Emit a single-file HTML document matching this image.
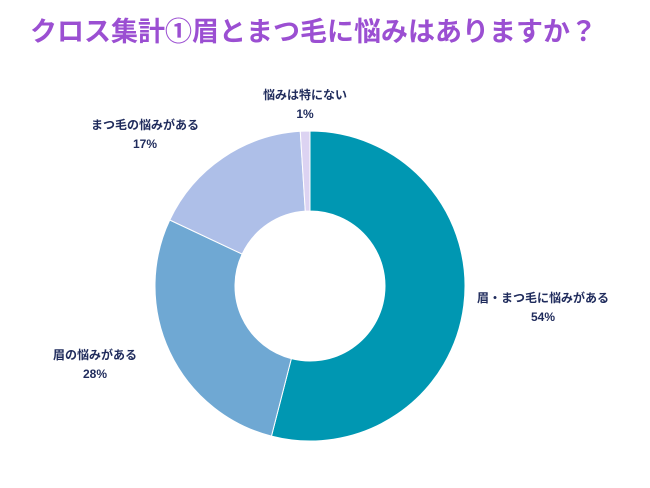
<!DOCTYPE html>
<html><head><meta charset="utf-8"><style>
html,body{margin:0;padding:0;background:#fff;width:650px;height:488px;overflow:hidden}
.t{font-family:"Liberation Sans","Noto Sans CJK JP",sans-serif}
</style></head><body>
<svg width="650" height="488" viewBox="0 0 650 488" xmlns="http://www.w3.org/2000/svg">
<text class="t" x="30" y="41" font-size="27" font-weight="bold" fill="#9b4fd2">クロス集計①眉とまつ毛に悩みはありますか？</text>
<g id="slices"></g>
<g id="labels" class="t" font-size="12" font-weight="bold" fill="#1f2b5c" text-anchor="middle"></g>
</svg>
<script>
const categories=["眉・まつ毛に悩みがある","眉の悩みがある","まつ毛の悩みがある","悩みは特にない"];
const values=[54,28,17,1];
const colors=["#0097b2","#6fa8d3","#aebfe8","#dcd3f2"];
const labelPos=[[543,298],[95,355],[145,125],[305,95]];
const cx=310,cy=286,R=155,r=75;
const ns="http://www.w3.org/2000/svg";
const total=values.reduce((a,b)=>a+b,0);
let a0=0;
const sg=document.getElementById('slices'),lg=document.getElementById('labels');
function pt(rad,a){return [cx+rad*Math.sin(a),cy-rad*Math.cos(a)];}
values.forEach((v,i)=>{
 const a1=a0+v/total*2*Math.PI;
 const [x0,y0]=pt(R,a0),[x1,y1]=pt(R,a1),[x2,y2]=pt(r,a1),[x3,y3]=pt(r,a0);
 const lf=(a1-a0)>Math.PI?1:0;
 const p=document.createElementNS(ns,'path');
 p.setAttribute('d',`M${x0},${y0}A${R},${R} 0 ${lf} 1 ${x1},${y1}L${x2},${y2}A${r},${r} 0 ${lf} 0 ${x3},${y3}Z`);
 p.setAttribute('fill',colors[i]);p.setAttribute('stroke','#fff');p.setAttribute('stroke-width','1');
 
 
 sg.appendChild(p);
 const [lx,ly]=labelPos[i];
 const t1=document.createElementNS(ns,'text');
 t1.setAttribute('x',lx);t1.setAttribute('y',ly+4);t1.textContent=categories[i];
 
 
 lg.appendChild(t1);
 const t2=document.createElementNS(ns,'text');
 t2.setAttribute('x',lx);t2.setAttribute('y',ly+23);t2.textContent=v+'%';
 
 
 lg.appendChild(t2);
 a0=a1;
});
</script>
</body></html>
